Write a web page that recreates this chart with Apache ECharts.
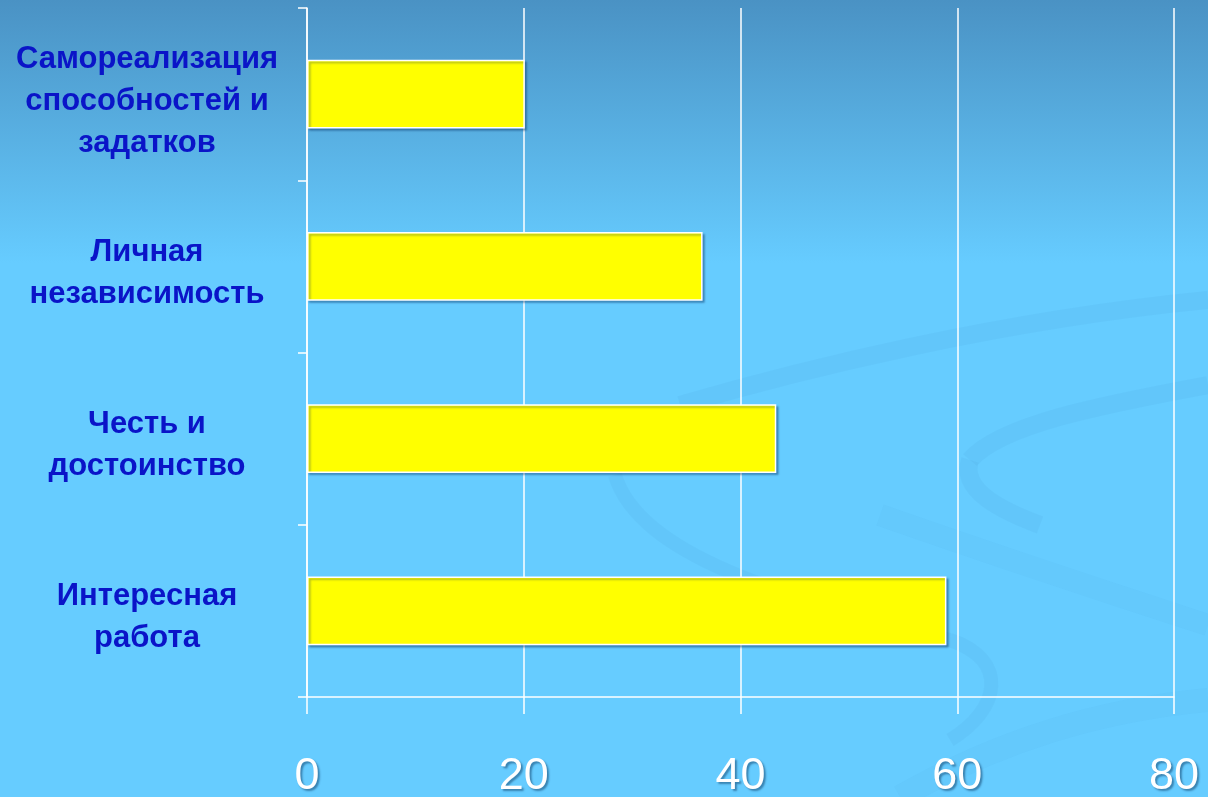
<!DOCTYPE html>
<html>
<head>
<meta charset="utf-8">
<script src="https://cdn.jsdelivr.net/npm/echarts@6/dist/echarts.min.js"></script>
<style>
html,body{margin:0;padding:0;width:1208px;height:797px;overflow:hidden;}
#c{width:1208px;height:797px;}
</style>
</head>
<body>
<div id="c"></div>
<script>
const categories = [
  "Самореализация\nспособностей и\nзадатков",
  "Личная\nнезависимость",
  "Честь и\nдостоинство",
  "Интересная\nработа"
];
const values = [20.1, 36.5, 43.3, 59.0];
const xTicks = [0, 20, 40, 60, 80];

const chart = echarts.init(document.getElementById('c'));
const swirl = 'rgba(50,130,190,0.07)';
function curve(x1,y1,c1x,c1y,c2x,c2y,x2,y2,w,col){
  return {type:'bezierCurve', z:-10, silent:true,
    shape:{x1:x1,y1:y1,cpx1:c1x,cpy1:c1y,cpx2:c2x,cpy2:c2y,x2:x2,y2:y2},
    style:{fill:null, stroke:col||swirl, lineWidth:w}};
}
chart.setOption({
  backgroundColor: {
    type: 'linear', x: 0, y: 0, x2: 0, y2: 1,
    colorStops: [
      {offset: 0, color: '#4a92c4'},
      {offset: 0.33, color: '#66ccff'},
      {offset: 1, color: '#66ccff'}
    ]
  },
  graphic: [
    curve(680,405, 800,370, 1000,320, 1208,300, 18),
    curve(615,475, 640,560, 800,600, 950,640, 14),
    curve(950,640, 1010,660, 1000,710, 950,740, 14),
    curve(1208,385, 1100,405, 1000,425, 970,460, 18),
    curve(970,460, 960,490, 1000,510, 1040,525, 18),
    curve(880,515, 980,550, 1100,590, 1208,625, 22, 'rgba(50,130,190,0.04)'),
    curve(900,797, 1000,740, 1100,710, 1208,700, 24, 'rgba(50,130,190,0.04)')
  ],
  grid: {left: 307, right: 34, top: 8, bottom: 100, containLabel: false, outerBoundsMode: 'none'},
  xAxis: {
    type: 'value', min: 0, max: 80, interval: 20,
    axisLine: {show: true, lineStyle: {color: '#ffffff', width: 1.5}},
    axisTick: {show: true, length: 17, lineStyle: {color: '#ffffff', width: 1.5}},
    splitLine: {show: true, lineStyle: {color: '#ffffff', width: 1.5}},
    axisLabel: {
      margin: 57, fontSize: 45, color: '#ffffff',
      fontFamily: 'Liberation Sans, Arial, sans-serif',
      textShadowColor: 'rgba(0,40,80,0.45)', textShadowOffsetX: 2, textShadowOffsetY: 2, textShadowBlur: 2,
      formatter: function(v){ return xTicks.indexOf(v) >= 0 ? String(v) : ''; }
    }
  },
  yAxis: {
    type: 'category', data: categories, inverse: true,
    axisLine: {show: true, lineStyle: {color: '#ffffff', width: 1.5}},
    axisTick: {show: true, length: 9, lineStyle: {color: '#ffffff', width: 1.5}},
    splitLine: {show: false},
    axisLabel: {
      margin: 160, align: 'center', fontSize: 31, fontWeight: 'bold', lineHeight: 42,
      color: '#0a14c8', fontFamily: 'Liberation Sans, Arial, sans-serif',
      formatter: function(v){ return '{s| }\n' + v; },
      rich: { s: {fontSize: 2, lineHeight: 14} }
    }
  },
  series: [{
    type: 'bar', data: values, barWidth: '40%',
    itemStyle: {
      color: '#ffff00', borderColor: '#ffffff', borderWidth: 1.5,
      shadowColor: 'rgba(0,40,90,0.35)', shadowOffsetX: 2, shadowOffsetY: 2, shadowBlur: 2
    },
    animation: false
  }],
  animation: false
});
</script>
</body>
</html>
